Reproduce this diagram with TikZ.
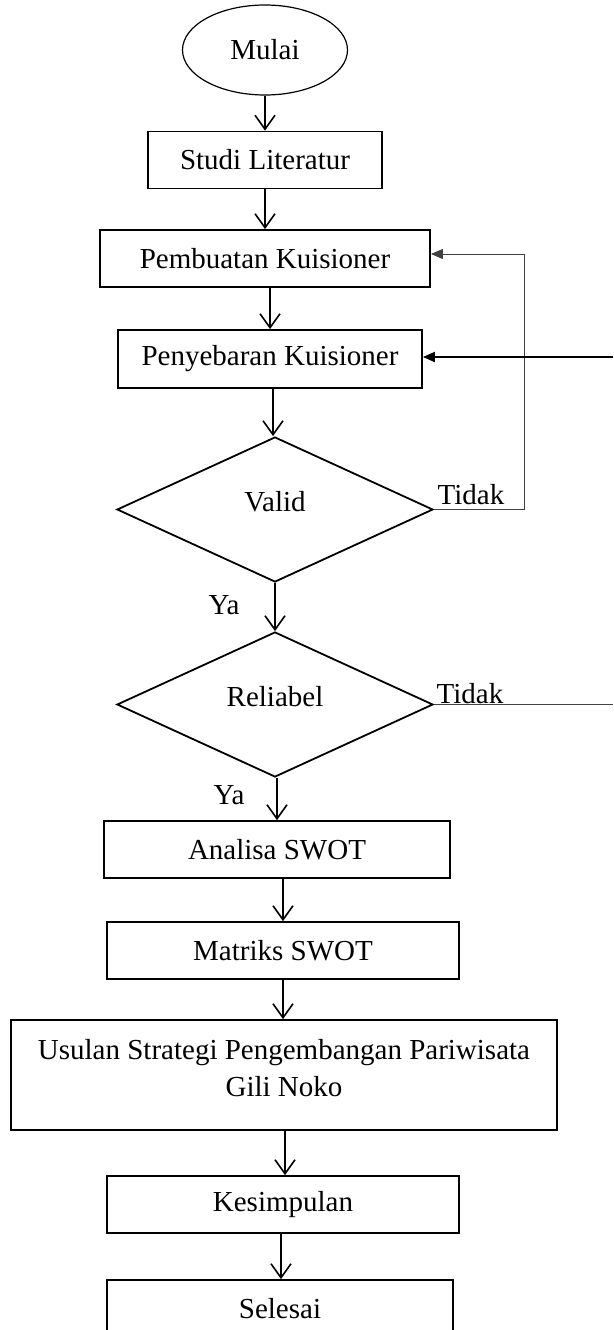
\documentclass[tikz,border=0pt]{standalone}
\usepackage{fontspec}
\setmainfont{Liberation Serif}
\usetikzlibrary{shapes.geometric,arrows.meta,calc}
\begin{document}
\begin{tikzpicture}[x=1pt,y=-1pt,
  font=\fontsize{29}{37}\selectfont,
  boxnode/.style={draw=black,line width=1.8pt,rectangle,inner sep=0pt,minimum height=57pt},
  ovalnode/.style={draw=black,line width=1.2pt,ellipse,inner sep=0pt,minimum width=165pt,minimum height=90pt},
  decnode/.style={draw=black,line width=1.8pt,diamond,inner sep=0pt,minimum width=316pt,minimum height=145pt,text depth=16pt},
  lbl/.style={inner sep=0pt},
  downarr/.style={line width=1.6pt,-{Straight Barb[length=14pt,width=20pt,line width=1.6pt]}},
  backarr/.style={line width=1pt,draw=black!75,-{Triangle[length=12pt,width=10pt]}},
  thickback/.style={line width=1.8pt,-{Triangle[length=12pt,width=10pt]}},
  thinline/.style={line width=1pt,draw=black!75}
]
\useasboundingbox (0,0) rectangle (613,1330);
\clip (0,0) rectangle (613,1330);
\fill[white] (0,0) rectangle (613,1330);

\node[ovalnode] (mulai) at (265,50) {Mulai};
\node[boxnode,minimum width=234pt] (studi) at (265,160) {Studi Literatur};
\node[boxnode,minimum width=330pt] (pembuatan) at (265,258.5) {Pembuatan Kuisioner};
\node[boxnode,minimum width=304pt,minimum height=58pt] (penyebaran) at (270,359) {Penyebaran Kuisioner};
\node[decnode] (valid) at (275,509.5) {Valid};
\node[decnode] (reliabel) at (275,704.5) {Reliabel};
\node[boxnode,minimum width=346pt] (analisa) at (277,849.5) {Analisa SWOT};
\node[boxnode,minimum width=352pt] (matriks) at (283,950.5) {Matriks SWOT};
\node[boxnode,minimum width=546pt,minimum height=110pt] (usulan) at (284,1075) {};
\node[lbl,align=center] (usulantext) at (284,1068) {Usulan Strategi Pengembangan Pariwisata\\Gili Noko};
\node[boxnode,minimum width=352pt] (kesimpulan) at (283,1204.5) {Kesimpulan};
\node[boxnode,minimum width=346pt] (selesai) at (280,1308.5) {Selesai};

\node[lbl] (tidak1) at (471,495) {Tidak};
\node[lbl] (ya1) at (224,605) {Ya};
\node[lbl] (tidak2) at (470,694) {Tidak};
\node[lbl] (ya2) at (229,795) {Ya};

\draw[downarr] (mulai.south) -- (mulai.south |- studi.north);
\draw[downarr] (studi.south) -- (studi.south |- pembuatan.north);
\draw[downarr] ($(pembuatan.south)+(5,0)$) -- ($(pembuatan.south |- penyebaran.north)+(5,0)$);
\draw[downarr] ($(penyebaran.south)+(3,0)$) -- ($(penyebaran.south |- valid.north)+(3,0)$);
\draw[downarr] (valid.south) -- (valid.south |- reliabel.north);
\draw[downarr] ($(reliabel.south)+(2,0)$) -- ($(reliabel.south |- analisa.north)+(2,0)$);
\draw[downarr] ($(analisa.south)+(6,0)$) -- ($(analisa.south |- matriks.north)+(6,0)$);
\draw[downarr] (matriks.south) -- (matriks.south |- usulan.north);
\draw[downarr] ($(usulan.south)+(1,0)$) -- ($(usulan.south |- kesimpulan.north)+(1,0)$);
\draw[downarr] ($(kesimpulan.south)+(-2,0)$) -- ($(kesimpulan.south |- selesai.north)+(-2,0)$);

\coordinate (fb1) at (524,509.5);
\coordinate (fb2) at (524,254);
\draw[thinline] (valid.east) -- (fb1) -- (fb2);
\draw[backarr] (fb2) -- (pembuatan.east |- fb2);

\coordinate (r1) at (613,357);
\draw[thickback] (r1) -- (penyebaran.east |- r1);
\coordinate (r2) at (613,704.5);
\draw[thinline] (reliabel.east) -- (r2);
\end{tikzpicture}
\end{document}
